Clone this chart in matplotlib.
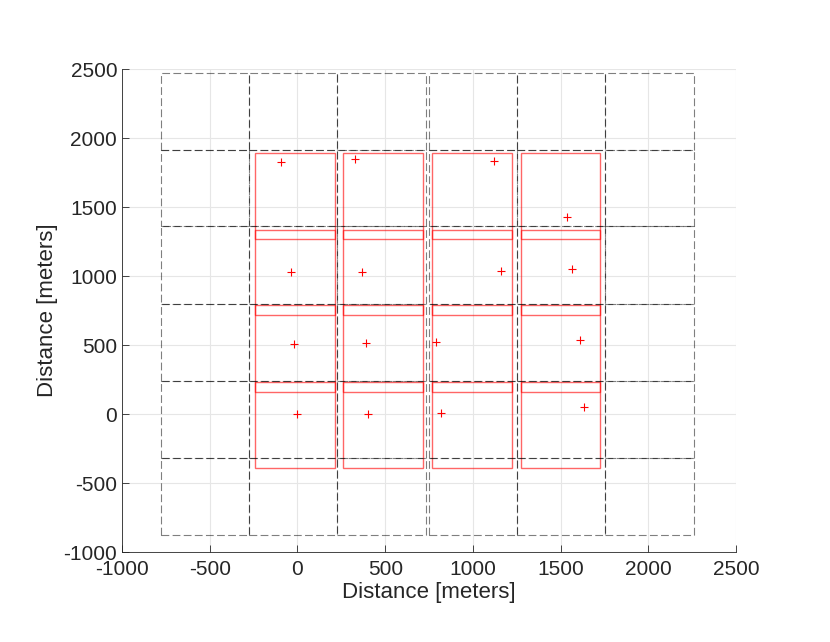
import matplotlib
matplotlib.use('Agg')
import matplotlib.pyplot as plt
from matplotlib.patches import Rectangle

# dashed coverage boxes (6 x 6), edges in meters
dash_left = [-779, -276, 227, 747, 1250, 1750]
dash_right = [-276, 227, 733, 1250, 1750, 2257]
dash_bottom = [-874, -317, 241, 800, 1364, 1915]
dash_top = [-317, 241, 800, 1364, 1915, 2473]

# red footprint boxes (4 x 4)
red_left = [-240, 262, 769, 1271]
red_right = [214, 718, 1222, 1726]
red_bottom = [1266, 717, 159, -393]
red_top = [1893, 1333, 790, 230]

# red + markers, row by row
pts_x = [-92, 330, 1117, 1537,
         -38, 370, 1157, 1564,
         -18, 389, 788, 1609,
         -2, 404, 815, 1630]
pts_y = [1828, 1846, 1831, 1425,
         1029, 1027, 1036, 1053,
         505, 512, 520, 536,
         -2, -2, 9, 53]

plt.rcParams['font.family'] = ['Liberation Sans', 'DejaVu Sans']
plt.rcParams['axes.unicode_minus'] = False

fig = plt.figure(figsize=(8.3, 6.42), dpi=100)
ax = fig.add_axes([0.147, 0.140, 0.740, 0.7525])

for l, r in zip(dash_left, dash_right):
    for b, t in zip(dash_bottom, dash_top):
        ax.add_patch(Rectangle((l, b), r - l, t - b, fill=False, edgecolor='black',
                               alpha=0.5, lw=0.8, linestyle=(0, (7, 3)), zorder=3))

for l, r in zip(red_left, red_right):
    for b, t in zip(red_bottom, red_top):
        ax.add_patch(Rectangle((l, b), r - l, t - b, fill=False, edgecolor='red',
                               alpha=0.6, lw=1.0, zorder=2))

ax.plot(pts_x, pts_y, '+', color='red', markersize=6, mew=0.8, zorder=4)

ax.set_xlim(-1000, 2500)
ax.set_ylim(-1000, 2500)
ax.set_xticks(range(-1000, 2501, 500))
ax.set_yticks(range(-1000, 2501, 500))
ax.grid(True, color='#e6e6e6', lw=0.8)
ax.set_axisbelow(True)
ax.spines['top'].set_visible(False)
ax.spines['right'].set_visible(False)
for s in ['left', 'bottom']:
    ax.spines[s].set_color('#262626')
    ax.spines[s].set_linewidth(0.6)
ax.tick_params(direction='in', length=5, width=0.6, colors='#262626', labelsize=15)
ax.tick_params(axis='x', pad=6)
ax.set_xlabel('Distance [meters]', fontsize=16, color='#262626', labelpad=2)
ax.set_ylabel('Distance [meters]', fontsize=16, color='#262626', labelpad=4)

fig.savefig('out.png', dpi=100)
